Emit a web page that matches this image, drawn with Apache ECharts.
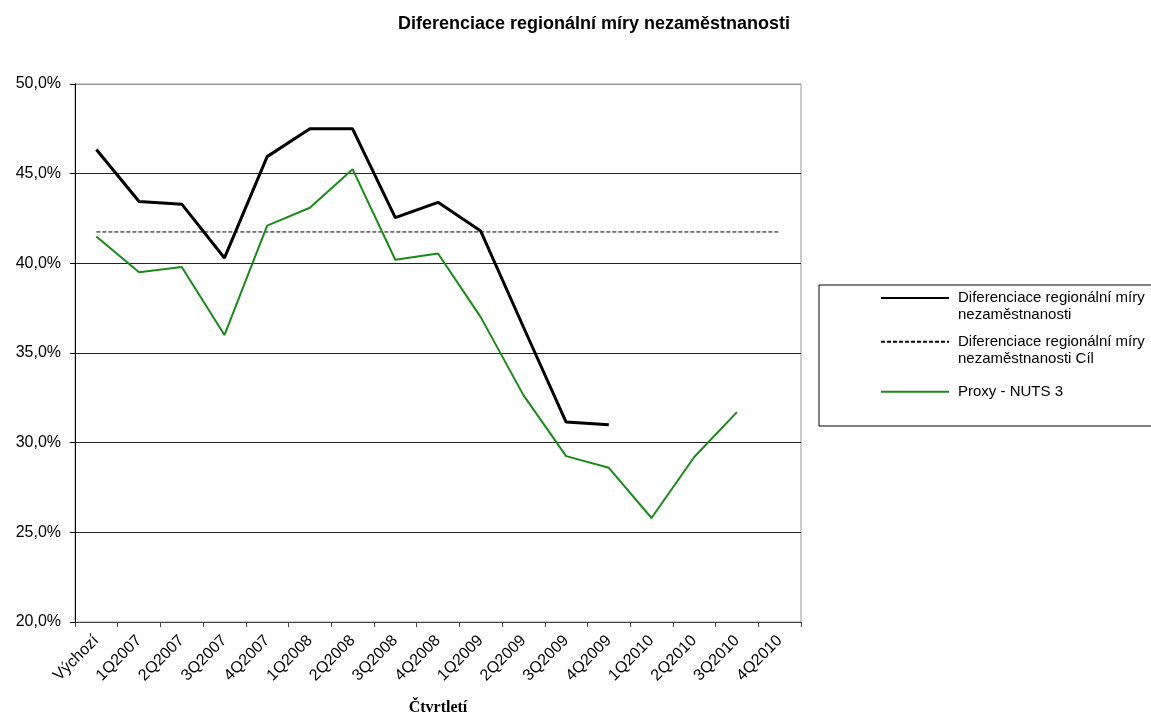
<!DOCTYPE html>
<html>
<head>
<meta charset="utf-8">
<script src="https://cdn.jsdelivr.net/npm/echarts@6/dist/echarts.min.js"></script>
<style>
html,body{margin:0;padding:0;background:#fff;}
#chart{width:1151px;height:714px;}
</style>
</head>
<body>
<div id="chart"></div>
<script>
var categories = ['Výchozí','1Q2007','2Q2007','3Q2007','4Q2007','1Q2008','2Q2008','3Q2008','4Q2008','1Q2009','2Q2009','3Q2009','4Q2009','1Q2010','2Q2010','3Q2010','4Q2010'];
var actualValues = [46.35, 43.45, 43.3, 40.3, 45.95, 47.5, 47.5, 42.55, 43.4, 41.8, 36.45, 31.15, 31.0, null, null, null, null];
var targetValues = [41.75, 41.75, 41.75, 41.75, 41.75, 41.75, 41.75, 41.75, 41.75, 41.75, 41.75, 41.75, 41.75, 41.75, 41.75, 41.75, 41.75];
var proxyValues = [41.5, 39.5, 39.8, 36.0, 42.1, 43.1, 45.25, 40.2, 40.55, 37.0, 32.65, 29.25, 28.6, 25.8, 29.2, 31.7, null];
var yTicks = { min: 20, max: 50, step: 5 };

var nameActual = 'Diferenciace regionální míry nezaměstnanosti';
var nameTarget = 'Diferenciace regionální míry nezaměstnanosti Cíl';
var nameProxy = 'Proxy - NUTS 3';

var chart = echarts.init(document.getElementById('chart'));
var legendText = { fontFamily: 'Liberation Sans', fontSize: 15, color: '#000', lineHeight: 17, padding: [0, 0, 0, 4] };
function legendFor(name, top, label) {
  return {
    show: true, orient: 'vertical', left: 880, top: top, padding: 0,
    itemWidth: 68, itemHeight: 14, selectedMode: false,
    itemStyle: { color: 'rgba(0,0,0,0)', borderWidth: 0, opacity: 0 },
    data: [{ name: name }],
    formatter: function () { return label; },
    textStyle: legendText
  };
}
chart.setOption({
  animation: false,
  backgroundColor: '#fff',
  title: {
    text: 'Diferenciace regionální míry nezaměstnanosti',
    left: 589, top: 10, textAlign: 'center',
    textStyle: { fontFamily: 'Liberation Sans', fontSize: 18, fontWeight: 'bold', color: '#000' }
  },
  legend: [
    legendFor(nameActual, 272.5, ' \nDiferenciace regionální míry\nnezaměstnanosti'),
    legendFor(nameTarget, 316.2, ' \nDiferenciace regionální míry\nnezaměstnanosti Cíl'),
    legendFor(nameProxy, 383.2, 'Proxy - NUTS 3')
  ],
  graphic: [{
    type: 'rect', left: 816.5, top: 282.5, silent: true,
    shape: { x: 0, y: 0, width: 345, height: 141 },
    style: { fill: 'none', stroke: '#000', lineWidth: 1 }
  }],
  grid: { left: 75, right: 350, top: 84, bottom: 92, outerBoundsMode: 'none', containLabel: false, show: true, borderColor: '#999', borderWidth: 1, backgroundColor: '#fff' },
  xAxis: {
    type: 'category', data: categories, boundaryGap: true,
    name: 'Čtvrtletí', nameLocation: 'middle', nameGap: 78,
    nameTextStyle: { fontFamily: 'Liberation Serif', fontSize: 16, fontWeight: 'bold', color: '#000' },
    axisLine: { lineStyle: { color: '#444', width: 1 } },
    axisTick: { show: true, interval: 0, length: 5, alignWithLabel: false, lineStyle: { color: '#444' } },
    axisLabel: { interval: 0, rotate: 45, margin: 16, fontFamily: 'Liberation Sans', fontSize: 16, color: '#000' },
    splitLine: { show: false }
  },
  yAxis: {
    type: 'value', min: yTicks.min, max: yTicks.max, interval: yTicks.step,
    axisLine: { show: true, lineStyle: { color: '#000', width: 1 } },
    axisTick: { show: true, inside: false, length: 5, lineStyle: { color: '#000' } },
    axisLabel: {
      margin: 14, fontFamily: 'Liberation Sans', fontSize: 16, color: '#000',
      formatter: function (v) { return v.toFixed(1).replace('.', ',') + '%'; }
    },
    splitLine: { show: true, lineStyle: { color: ['#444', '#222', '#222', '#222', '#222', '#222', '#999'], width: 1 } }
  },
  series: [
    {
      name: nameActual, type: 'line', data: actualValues, symbol: 'none', connectNulls: false,
      lineStyle: { color: '#000', width: 3 }, itemStyle: { color: '#000' }, z: 4
    },
    {
      name: nameTarget, type: 'line', data: targetValues, symbol: 'none',
      lineStyle: { color: '#000', width: 1, type: [4, 2] }, itemStyle: { color: '#000' }, z: 3
    },
    {
      name: nameProxy, type: 'line', data: proxyValues, symbol: 'none',
      lineStyle: { color: '#1a8a1a', width: 2 }, itemStyle: { color: '#1a8a1a' }, z: 3
    }
  ]
});
</script>
</body>
</html>
